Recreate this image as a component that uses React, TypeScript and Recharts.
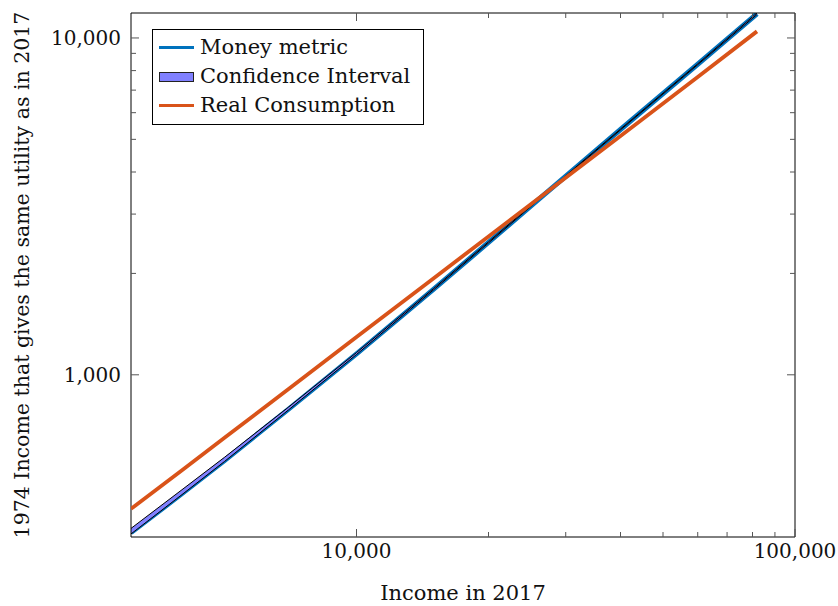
import { Area, ComposedChart, Label, Legend, Line, XAxis, YAxis } from "recharts"

// 2017 income (x) and the matching 1974 income (y)
const INCOME = [3060, 4000, 5000, 7000, 10000, 15000, 20000, 26300, 40000, 60000, 81900]
const MONEY_METRIC = [340, 444, 557, 791, 1154, 1796, 2471, 3358, 5349, 8355, 11800]
const CI_LOW = [337, 441, 553, 787, 1149, 1789, 2463, 3348, 5335, 8330, 11740]
const CI_HIGH = [350, 456, 569, 802, 1164, 1805, 2482, 3370, 5365, 8380, 11860]
const REAL_CONSUMPTION = [400, 521, 650, 908, 1294, 1935, 2575, 3380, 5120, 7660, 10460]

const SERIES_NAMES = ["Money metric", "Confidence Interval", "Real Consumption"]

const X_DOMAIN = [3060, 100000]
const Y_DOMAIN = [330, 11860]
const X_MAJOR = [10000, 100000]
const X_MINOR = [20000, 30000, 40000, 50000, 60000, 70000, 80000, 90000]
const Y_MAJOR = [1000, 10000]
const Y_MINOR = [2000, 3000, 4000, 5000, 6000, 7000, 8000, 9000]

const BLUE = "#0072BD"
const ORANGE = "#D95319"
const CI_FILL = "#8080FF"
const TICK = "#555"
const FONT = "'DejaVu Serif', serif"

const data = INCOME.map((income, i) => ({
  income,
  money: MONEY_METRIC[i],
  ci: [CI_LOW[i], CI_HIGH[i]],
  real: REAL_CONSUMPTION[i],
}))

const fmt = (v: number) => v.toLocaleString("en-US")

function makeTick(side: "bottom" | "top" | "left" | "right", majors: number[], labelled: boolean) {
  return function Tick(props: any) {
    const { x, y, payload } = props
    const v = payload.value
    const major = majors.includes(v)
    const len = major ? 8 : 5
    let line
    if (side === "bottom") line = <line x1={x} y1={y} x2={x} y2={y - len} stroke={TICK} />
    else if (side === "top") line = <line x1={x} y1={y} x2={x} y2={y + len} stroke={TICK} />
    else if (side === "left") line = <line x1={x} y1={y} x2={x + len} y2={y} stroke={TICK} />
    else line = <line x1={x} y1={y} x2={x - len} y2={y} stroke={TICK} />
    return (
      <g>
        {line}
        {labelled && major && side === "bottom" && (
          <text x={x} y={y + 21} textAnchor="middle" fontSize={20} fill="#111">
            {fmt(v)}
          </text>
        )}
        {labelled && major && side === "left" && (
          <text x={x - 10} y={y} dy="0.36em" textAnchor="end" fontSize={20} fill="#111">
            {fmt(v)}
          </text>
        )}
      </g>
    )
  }
}

const BottomTick = makeTick("bottom", X_MAJOR, true)
const TopTick = makeTick("top", X_MAJOR, false)
const LeftTick = makeTick("left", Y_MAJOR, true)
const RightTick = makeTick("right", Y_MAJOR, false)

function LegendBox({ payload }: { payload?: any[] }) {
  const items = [...(payload ?? [])]
    .filter((p) => SERIES_NAMES.includes(p.value))
    .sort((a, b) => SERIES_NAMES.indexOf(a.value) - SERIES_NAMES.indexOf(b.value))
  return (
    <div
      style={{
        boxSizing: "border-box",
        width: 272,
        border: "1px solid #000",
        background: "#fff",
        padding: "3px 6px 4px 6px",
        fontFamily: FONT,
      }}
    >
      {items.map((p) => (
        <div key={p.value} style={{ display: "flex", alignItems: "center", height: 29 }}>
          {p.value === "Confidence Interval" ? (
            <span
              style={{
                boxSizing: "border-box",
                width: 35,
                height: 10,
                background: CI_FILL,
                border: "1px solid #222",
              }}
            />
          ) : (
            <span
              style={{
                width: 35,
                height: 3,
                background: p.value === "Money metric" ? BLUE : ORANGE,
              }}
            />
          )}
          <span style={{ marginLeft: 6, fontSize: 21, color: "#111", lineHeight: 1 }}>{p.value}</span>
        </div>
      ))}
    </div>
  )
}

export default function App() {
  return (
    <div style={{ width: 838, height: 606, background: "#fff", fontFamily: FONT }}>
      <style>{"body{margin:0}"}</style>
      <ComposedChart
        width={838}
        height={606}
        data={data}
        margin={{ top: 12, right: 42, bottom: 0, left: 0 }}
      >
        <XAxis
          dataKey="income"
          type="number"
          scale="log"
          domain={X_DOMAIN}
          allowDataOverflow
          ticks={[...X_MAJOR, ...X_MINOR]}
          interval={0}
          tick={BottomTick}
          tickLine={false}
          tickSize={0}
          tickMargin={0}
          stroke="#000"
          height={69}
        >
          <Label value="Income in 2017" position="insideBottom" offset={6} fontSize={21} fill="#111" />
        </XAxis>
        <XAxis
          xAxisId="top"
          dataKey="income"
          orientation="top"
          type="number"
          scale="log"
          domain={X_DOMAIN}
          allowDataOverflow
          ticks={[...X_MAJOR, ...X_MINOR]}
          interval={0}
          tick={TopTick}
          tickLine={false}
          tickSize={0}
          tickMargin={0}
          stroke="#000"
          height={1}
        />
        <YAxis
          type="number"
          scale="log"
          domain={Y_DOMAIN}
          allowDataOverflow
          ticks={[...Y_MAJOR, ...Y_MINOR]}
          interval={0}
          tick={LeftTick}
          tickLine={false}
          tickSize={0}
          tickMargin={0}
          stroke="#000"
          width={131}
        >
          <Label
            value="1974 Income that gives the same utility as in 2017"
            angle={-90}
            position="insideLeft"
            offset={22}
            fontSize={20.5}
            fill="#111"
            style={{ textAnchor: "middle" }}
          />
        </YAxis>
        <YAxis
          yAxisId="right"
          orientation="right"
          type="number"
          scale="log"
          domain={Y_DOMAIN}
          allowDataOverflow
          ticks={[...Y_MAJOR, ...Y_MINOR]}
          interval={0}
          tick={RightTick}
          tickLine={false}
          tickSize={0}
          tickMargin={0}
          stroke="#000"
          width={1}
        />
        <Legend
          content={<LegendBox />}
          layout="horizontal"
          align="center"
          verticalAlign="middle"
          wrapperStyle={{ left: 152, top: 29, width: "auto" }}
        />
        {/* invisible series that keeps the mirrored top/right axes alive */}
        <Line
          xAxisId="top"
          yAxisId="right"
          dataKey="real"
          stroke="none"
          dot={false}
          activeDot={false}
          legendType="none"
          isAnimationActive={false}
        />
        <Line
          name="Money metric"
          dataKey="money"
          type="linear"
          stroke={BLUE}
          strokeWidth={5}
          dot={false}
          legendType="line"
          isAnimationActive={false}
        />
        <Area
          name="Confidence Interval"
          dataKey="ci"
          type="linear"
          fill={CI_FILL}
          fillOpacity={1}
          stroke="#000"
          strokeWidth={1}
          legendType="rect"
          zIndex={450}
          isAnimationActive={false}
        />
        <Line
          name="Real Consumption"
          dataKey="real"
          type="linear"
          stroke={ORANGE}
          strokeWidth={3.8}
          dot={false}
          legendType="line"
          zIndex={500}
          isAnimationActive={false}
        />
      </ComposedChart>
    </div>
  )
}
